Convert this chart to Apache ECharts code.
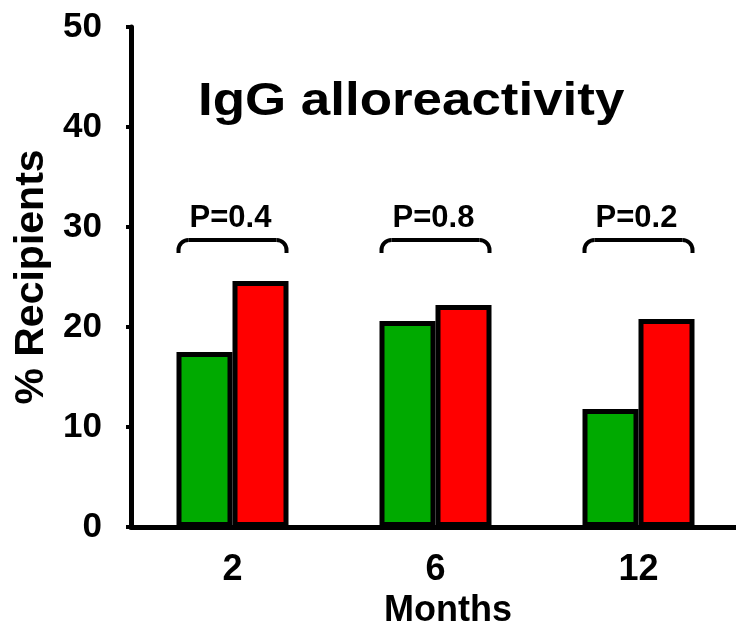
<!DOCTYPE html>
<html>
<head>
<meta charset="utf-8">
<script src="https://cdn.jsdelivr.net/npm/echarts@6/dist/echarts.min.js"></script>
<style>html,body{margin:0;padding:0;background:#fff;}#chart{width:736px;height:625px;}</style>
</head>
<body>
<div id="chart"></div>
<script>
// ---- data ----
const months = ['2', '6', '12'];
const greenValues = [17.5, 20.6, 11.8];
const redValues = [24.6, 22.2, 20.8];
const pLabels = ['P=0.4', 'P=0.8', 'P=0.2'];
const bracketTop = [28.7, 28.7, 28.7];
const bracketEnd = [27.4, 27.4, 27.4];
const yTicks = [0, 10, 20, 30, 40, 50];
const titleText = 'IgG alloreactivity';

const FONT = 'Liberation Sans, Arial, sans-serif';
const chart = echarts.init(document.getElementById('chart'), null, { renderer: 'canvas' });

const bracketData = months.map((m, i) => [i, bracketTop[i], bracketEnd[i], pLabels[i]]);

function renderBracket(params, api) {
  const i = api.value(0);
  const top = api.coord([i, api.value(1)]);
  const end = api.coord([i, api.value(2)]);
  const half = api.size([1, 0])[0] * 0.266;
  const cx = top[0];
  const l = cx - half, rt = cx + half;
  const yT = top[1], yE = end[1];
  const r = 10;
  const ls = { stroke: '#000', lineWidth: 4, fill: null };
  return {
    type: 'group',
    children: [
      { type: 'polyline', shape: { points: [[l, yE], [l, yT + r]] }, style: ls },
      { type: 'arc', shape: { cx: l + r, cy: yT + r, r: r, startAngle: Math.PI, endAngle: Math.PI * 1.5, clockwise: true }, style: ls },
      { type: 'polyline', shape: { points: [[l + r, yT], [rt - r, yT]] }, style: ls },
      { type: 'arc', shape: { cx: rt - r, cy: yT + r, r: r, startAngle: Math.PI * 1.5, endAngle: Math.PI * 2, clockwise: true }, style: ls },
      { type: 'polyline', shape: { points: [[rt, yT + r], [rt, yE]] }, style: ls },
      { type: 'text', style: { text: pLabels[i], x: cx - 2, y: yT - 22, align: 'center', verticalAlign: 'middle',
          font: 'bold 31px ' + FONT, fill: '#000' } }
    ]
  };
}

chart.setOption({
  animation: false,
  backgroundColor: '#fff',
  graphic: [{
    type: 'text',
    x: 198, y: 79,
    scaleX: 1.15,
    style: { text: titleText, font: 'bold 46px ' + FONT, fill: '#000', verticalAlign: 'top', align: 'left' }
  }],
  grid: { left: 131, top: 27, width: 609, bottom: 98, containLabel: false, outerBoundsMode: 'none' },
  xAxis: {
    type: 'category',
    data: months,
    name: 'Months',
    nameLocation: 'middle',
    nameGap: 66,
    nameTextStyle: { fontFamily: FONT, fontWeight: 'bold', fontSize: 36, color: '#000', padding: [0, 0, 0, 25] },
    axisLine: { lineStyle: { color: '#000', width: 5 } },
    axisTick: { show: false },
    axisLabel: { fontFamily: FONT, fontWeight: 'bold', fontSize: 36, color: '#000', margin: 25 },
    splitLine: { show: false }
  },
  yAxis: {
    type: 'value',
    min: yTicks[0], max: yTicks[yTicks.length - 1], interval: 10,
    name: '% Recipients',
    nameLocation: 'middle',
    nameGap: 78,
    nameTextStyle: { fontFamily: FONT, fontWeight: 'bold', fontSize: 41, color: '#000' },
    axisLine: { show: true, lineStyle: { color: '#000', width: 5 } },
    axisTick: { show: true, length: 5, lineStyle: { color: '#000', width: 4 } },
    axisLabel: { fontFamily: FONT, fontWeight: 'bold', fontSize: 35, color: '#000', margin: 29 },
    splitLine: { show: false }
  },
  series: [
    {
      type: 'bar', data: greenValues, barWidth: 56, barGap: '0%',
      itemStyle: { color: '#00AA00', borderColor: '#000', borderWidth: 5 }
    },
    {
      type: 'bar', data: redValues, barWidth: 56, barGap: '0%',
      itemStyle: { color: '#FF0000', borderColor: '#000', borderWidth: 5 }
    },
    {
      type: 'custom', data: bracketData, renderItem: renderBracket, silent: true, z: 5,
      encode: { x: 0, y: 1 }
    }
  ]
});
</script>
</body>
</html>
